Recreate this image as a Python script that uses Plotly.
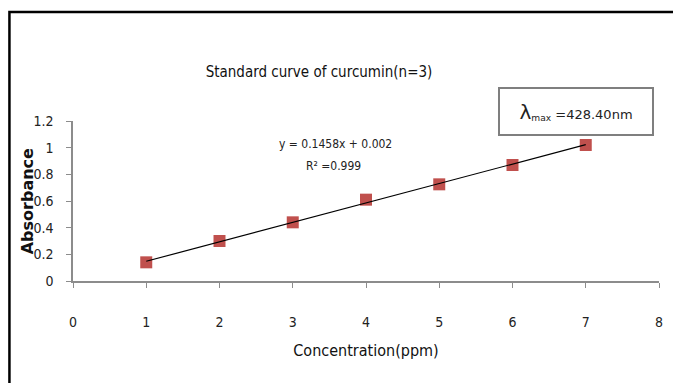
import plotly.graph_objects as go

concentration = [1, 2, 3, 4, 5, 6, 7]
absorbance = [0.14, 0.30, 0.44, 0.61, 0.725, 0.87, 1.02]
slope = 0.1458
intercept = 0.002
x_ticks = [0, 1, 2, 3, 4, 5, 6, 7, 8]
y_ticks = [0, 0.2, 0.4, 0.6, 0.8, 1, 1.2]
y_tick_labels = ["0", "0.2", "0.4", "0.6", "0.8", "1", "1.2"]

FONT = "DejaVu Sans Condensed, Liberation Sans Narrow, Arial Narrow, sans-serif"

fit_x = [concentration[0], concentration[-1]]
fit_y = [slope * v + intercept for v in fit_x]

fig = go.Figure()
fig.add_trace(go.Scatter(
    x=concentration, y=absorbance, mode="markers",
    marker=dict(symbol="square", size=12, color="#C0504D",
                line=dict(width=0)),
    showlegend=False))
fig.add_trace(go.Scatter(
    x=fit_x, y=fit_y, mode="lines",
    line=dict(color="black", width=1.2), showlegend=False))

fig.update_layout(
    width=673, height=383,
    margin=dict(l=73, r=10, t=121, b=102),
    paper_bgcolor="white", plot_bgcolor="white",
    font=dict(family=FONT, color="#222222", size=13),
    title=dict(text="Standard curve of curcumin(n=3)", x=319 / 673,
               xanchor="center", xref="container",
               y=1 - 72 / 383, yanchor="middle", yref="container",
               font=dict(size=15, family=FONT, color="#111111")),
    xaxis=dict(range=[0, 8], tickvals=x_ticks, showgrid=False, zeroline=False,
               showline=True, linecolor="#8c8c8c", linewidth=1.5,
               ticks="outside", ticklen=5, tickcolor="#8c8c8c",
               ticklabelstandoff=22,
               tickfont=dict(size=14, color="#222222"),
               title=dict(text="Concentration(ppm)", standoff=16,
                          font=dict(size=16, color="#111111"))),
    yaxis=dict(range=[0, 1.2], tickvals=y_ticks, ticktext=y_tick_labels,
               showgrid=False, zeroline=False,
               showline=True, linecolor="#8c8c8c", linewidth=1.5,
               ticks="outside", ticklen=5, tickcolor="#8c8c8c",
               ticklabelstandoff=10,
               tickfont=dict(size=14, color="#222222")),
)

# y axis title placed to match the reference
fig.add_annotation(
    xref="paper", yref="paper", x=(27 - 73) / 590, y=(281 - 201) / 160,
    text="<b>Absorbance</b>", textangle=-90, showarrow=False,
    font=dict(size=16, family="DejaVu Sans, Arial, sans-serif", color="#111111"),
    xanchor="center", yanchor="middle")

# outer frame (left and top edges visible)
fig.add_shape(type="rect", xref="paper", yref="paper",
              x0=(9 - 73) / 590, x1=1.1, y0=-1.0, y1=(281 - 12) / 160,
              line=dict(color="black", width=2.5), layer="below")

fig.add_annotation(
    xref="paper", yref="paper", x=(337 - 73) / 590, y=(281 - 144) / 160,
    text=f"y = {slope}x + {intercept}", showarrow=False,
    font=dict(size=12, color="#222222"), xanchor="center", yanchor="middle")
fig.add_annotation(
    xref="paper", yref="paper", x=(335 - 73) / 590, y=(281 - 166) / 160,
    text="R² =0.999", showarrow=False,
    font=dict(size=12, color="#222222"), xanchor="center", yanchor="middle")

fig.add_annotation(
    xref="paper", yref="paper", x=(579 - 73) / 590, y=(281 - 111.5) / 160,
    text="<span style='font-size:20px'>λ</span><sub>max</sub> =428.40nm",
    showarrow=False, font=dict(size=13, color="#222222", family="DejaVu Sans, sans-serif"),
    xanchor="center", yanchor="middle",
    width=152, height=45, bordercolor="#7f7f7f", borderwidth=2,
    bgcolor="white", borderpad=0)

fig.write_html("out.html")
